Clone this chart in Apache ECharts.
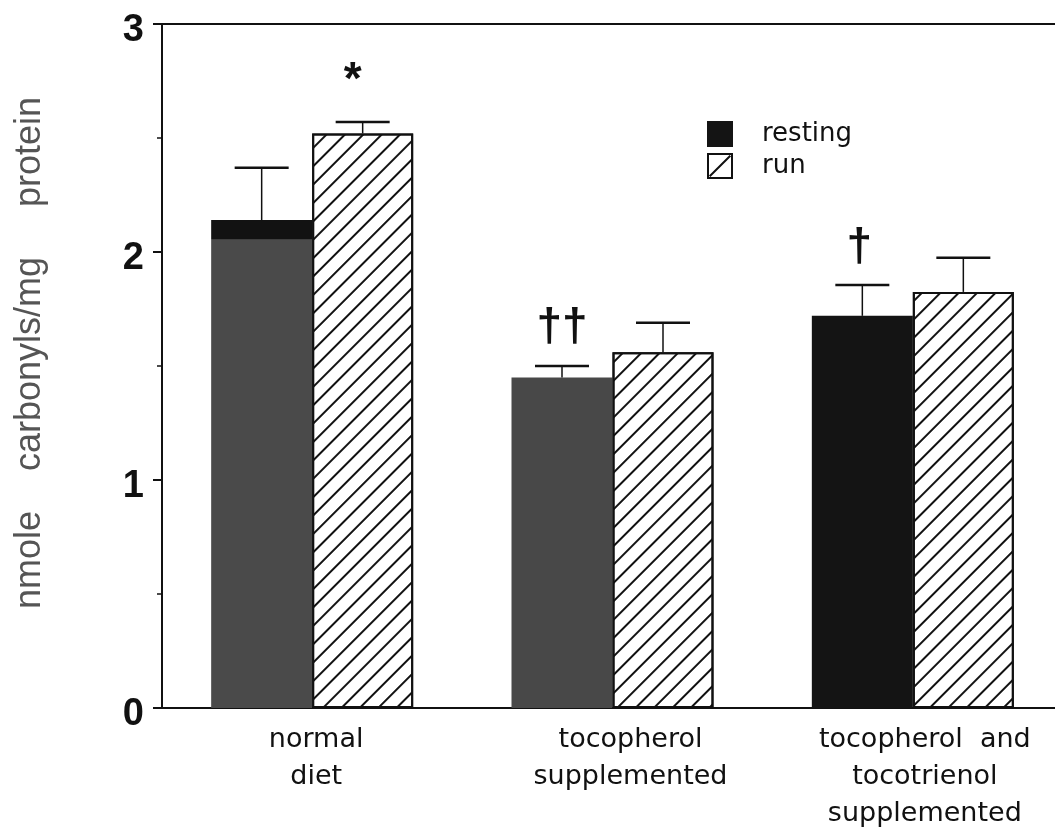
<!DOCTYPE html>
<html><head><meta charset="utf-8">
<script src="https://cdn.jsdelivr.net/npm/echarts@6/dist/echarts.min.js"></script>
<style>html,body{margin:0;padding:0;background:#fff}#c{width:1055px;height:827px}</style>
</head><body><div id="c"></div>
<script>
// ---- data ----
const categories = ['normal\ndiet', 'tocopherol\nsupplemented', 'tocopherol  and\ntocotrienol\nsupplemented'];
const seriesNames = ['resting', 'run'];
const restingMean = [2.14, 1.45, 1.72];
const restingSE = [0.23, 0.05, 0.135];
const runMean = [2.52, 1.56, 1.825];
const runSE = [0.05, 0.13, 0.15];
const yMin = 0, yMax = 3, yStep = 1;
const annotations = [
  { cat: 0, series: 1, y: 2.75, text: '*' },
  { cat: 1, series: 0, y: 1.667, text: '††' },
  { cat: 2, series: 0, y: 2.017, text: '†' }
];
const yName = 'nmole    carbonyls/mg     protein';

// ---- style ----
const BAR_W = 101, CAP = 54, INK = '#111';
const FONT = "'Liberation Sans', Arial, sans-serif";
const LFONT = "'DejaVu Sans', sans-serif";
const annDx = [-10, 0, -3];
const labelPad = [8, 36, 24];
const restingColors = [
  { type: 'linear', x: 0, y: 0, x2: 0, y2: 1, colorStops: [
    { offset: 0, color: '#121212' }, { offset: 0.039, color: '#121212' },
    { offset: 0.04, color: '#4a4a4a' }, { offset: 1, color: '#4a4a4a' }] },
  '#484848',
  '#141414'
];
const hatch = { symbol: 'rect', symbolSize: 1, color: INK, dashArrayX: [1, 0], dashArrayY: [1.4, 10.8], rotation: -Math.PI / 4 };
const hatchIcon = 'path://M0,0H26V26H0Z M2,2V24H24V2Z M2,22.6L22.6,2L24,3.4L3.4,24Z';

const errData = [];
restingMean.forEach((m, i) => errData.push([i, 0, m, restingSE[i]]));
runMean.forEach((m, i) => errData.push([i, 1, m, runSE[i]]));
const annData = annotations.map(a => [a.cat, a.series, a.y]);

const rich = {};
labelPad.forEach((p, i) => {
  rich['g' + i] = { fontFamily: LFONT, fontSize: 27, color: INK, lineHeight: 37, padding: [0, 0, 0, p] };
});

const chart = echarts.init(document.getElementById('c'));
chart.setOption({
  animation: false,
  backgroundColor: '#fff',
  grid: { left: 162, top: 24, width: 901, height: 684, outerBoundsMode: 'none', containLabel: false,
    show: true, borderColor: INK, borderWidth: 2, backgroundColor: 'transparent' },
  legend: {
    orient: 'vertical', left: 707, top: 121, itemWidth: 26, itemHeight: 26, itemGap: 6, icon: 'rect', padding: 0,
    textStyle: { fontFamily: LFONT, fontSize: 26, color: INK, padding: [0, 0, 0, 24] },
    data: [
      { name: 'resting' },
      { name: 'run', icon: hatchIcon, itemStyle: { color: INK, borderWidth: 0, decal: 'none' } }
    ]
  },
  xAxis: {
    type: 'category', data: categories,
    axisLine: { lineStyle: { color: INK, width: 2 } },
    axisTick: { show: false },
    axisLabel: { fontFamily: LFONT, fontSize: 27, color: INK, lineHeight: 37, margin: 13, interval: 0,
      formatter: function (v, i) { return v.split('\n').map(l => '{g' + i + '|' + l + '}').join('\n'); },
      rich: rich }
  },
  yAxis: {
    type: 'value', min: yMin, max: yMax, interval: yStep,
    name: yName, nameLocation: 'middle', nameRotate: 90, nameGap: 114,
    nameTextStyle: { fontFamily: FONT, fontSize: 36, color: '#555', padding: [0, 0, 0, 26] },
    axisLine: { show: true, lineStyle: { color: INK, width: 2 } },
    axisTick: { show: true, length: 9, lineStyle: { color: INK, width: 2 } },
    minorTick: { show: true, splitNumber: 2, length: 5, lineStyle: { color: INK, width: 1.5 } },
    splitLine: { show: false },
    axisLabel: { fontFamily: FONT, fontSize: 38, fontWeight: 'bold', color: INK, margin: 18,
      verticalAlign: 'top', lineHeight: 14 }
  },
  series: [
    {
      name: seriesNames[0], type: 'bar', barWidth: BAR_W, barGap: '0%',
      itemStyle: { color: '#141414' },
      data: restingMean.map((v, i) => ({ value: v, itemStyle: { color: restingColors[i] } }))
    },
    {
      name: seriesNames[1], type: 'bar', barWidth: BAR_W, barGap: '0%',
      itemStyle: { color: '#fff', borderColor: INK, borderWidth: 2, decal: hatch },
      data: runMean
    },
    {
      type: 'custom', silent: true, z: 5,
      encode: { x: 0, y: [2, 3] },
      data: errData,
      renderItem: function (params, api) {
        const ci = api.value(0), si = api.value(1), m = api.value(2), se = api.value(3);
        const base = api.coord([ci, m]);
        const top = api.coord([ci, m + se]);
        const x = base[0] + (si === 0 ? -1 : 1) * BAR_W / 2;
        return { type: 'group', children: [
          { type: 'line', shape: { x1: x, y1: base[1], x2: x, y2: top[1] }, style: { stroke: INK, lineWidth: 1.5 } },
          { type: 'line', shape: { x1: x - CAP / 2, y1: top[1], x2: x + CAP / 2, y2: top[1] }, style: { stroke: INK, lineWidth: 2.5 } }
        ] };
      }
    },
    {
      type: 'custom', silent: true, z: 6,
      encode: { x: 0, y: 2 },
      data: annData,
      renderItem: function (params, api) {
        const ci = api.value(0), si = api.value(1), y = api.value(2);
        const p = api.coord([ci, y]);
        const x = p[0] + (si === 0 ? -1 : 1) * BAR_W / 2 + annDx[params.dataIndex];
        return { type: 'text', x: x, y: p[1], style: {
          text: annotations[params.dataIndex].text, fontFamily: FONT, fontSize: 46, fontWeight: 'bold',
          fill: INK, align: 'center', verticalAlign: 'middle' } };
      }
    }
  ]
});
</script>
</body></html>
